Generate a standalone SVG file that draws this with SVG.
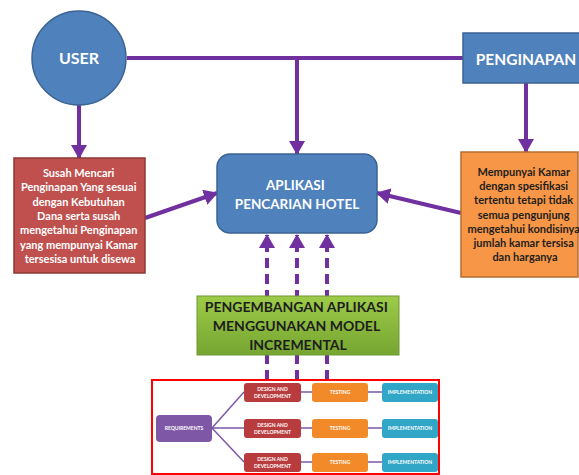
<svg xmlns="http://www.w3.org/2000/svg" width="579" height="475" viewBox="0 0 579 475">
<defs>
<marker id="ah" markerUnits="userSpaceOnUse" markerWidth="16" markerHeight="16" viewBox="0 0 16 16" refX="13" refY="8" orient="auto">
<path d="M0,0 L14,8 L0,16 Z" fill="#7030A0"/>
</marker>
<linearGradient id="gg" x1="0" y1="0" x2="0" y2="1">
<stop offset="0" stop-color="#9DCB48"/>
<stop offset="1" stop-color="#76A532"/>
</linearGradient>
<style>
.t{font-family:Lato,"Open Sans","Liberation Sans",sans-serif;font-weight:bold;text-anchor:middle}
.w{fill:#FFFFFF}
.k{fill:#1E1E1E}
.c{stroke:#7030A0;stroke-width:4;fill:none}
.d{stroke:#7030A0;stroke-width:4;fill:none;stroke-dasharray:10 6}
.s{font-size:5px}
.fl{stroke:#7E58A6;stroke-width:1.5;fill:none}
</style>
</defs>
<g id="connectors">
<line class="c" x1="127" y1="58" x2="463" y2="58"/>
<line class="c" x1="79" y1="105" x2="79" y2="158" marker-end="url(#ah)"/>
<line class="c" x1="297" y1="58" x2="297" y2="154" marker-end="url(#ah)"/>
<line class="c" x1="526" y1="83" x2="526" y2="152" marker-end="url(#ah)"/>
<line class="c" x1="145" y1="218" x2="217" y2="193" marker-end="url(#ah)"/>
<line class="c" x1="461" y1="213" x2="377" y2="193" marker-end="url(#ah)"/>
<line class="d" x1="267" y1="380" x2="267" y2="235" marker-end="url(#ah)"/>
<line class="d" x1="297" y1="380" x2="297" y2="235" marker-end="url(#ah)"/>
<line class="d" x1="327" y1="380" x2="327" y2="235" marker-end="url(#ah)"/>
</g>
<g id="user">
<circle cx="79" cy="58" r="47" fill="#4F81BD" stroke="#3A6393" stroke-width="1.5"/>
<text class="t w" x="79" y="64" font-size="16">USER</text>
</g>
<g id="penginapan">
<rect x="463" y="33" width="120" height="50" fill="#4F81BD" stroke="#3A6393" stroke-width="1.5"/>
<text class="t w" x="526" y="65" font-size="15.5">PENGINAPAN</text>
</g>
<g id="masalah-user">
<rect x="14" y="158" width="131" height="115" fill="#C0504D" stroke="#8C3836" stroke-width="1.5"/>
<text class="t w" font-size="11">
<tspan x="80" y="177">Susah Mencari</tspan>
<tspan x="80" y="191.3">Penginapan Yang sesuai</tspan>
<tspan x="80" y="205.6">dengan Kebutuhan</tspan>
<tspan x="80" y="219.9">Dana serta susah</tspan>
<tspan x="80" y="234.2">mengetahui Penginapan</tspan>
<tspan x="80" y="248.5">yang mempunyai Kamar</tspan>
<tspan x="80" y="262.8">tersesisa untuk disewa</tspan>
</text>
</g>
<g id="masalah-penginapan">
<rect x="461" y="152" width="117" height="125" fill="#F79646" stroke="#B66D31" stroke-width="1.5"/>
<text class="t k" font-size="11">
<tspan x="525" y="176">Mempunyai Kamar</tspan>
<tspan x="525" y="190.2">dengan spesifikasi</tspan>
<tspan x="525" y="204.4">tertentu tetapi tidak</tspan>
<tspan x="525" y="218.6">semua pengunjung</tspan>
<tspan x="525" y="232.8">mengetahui kondisinya</tspan>
<tspan x="525" y="247">jumlah kamar tersisa</tspan>
<tspan x="525" y="261.2">dan harganya</tspan>
</text>
</g>
<g id="aplikasi">
<rect x="217" y="154" width="160" height="79" rx="13" fill="#4F81BD" stroke="#3A6393" stroke-width="1.5"/>
<text class="t w" font-size="13.5">
<tspan x="297" y="190">APLIKASI</tspan>
<tspan x="297" y="209">PENCARIAN HOTEL</tspan>
</text>
</g>
<g id="pengembangan">
<rect x="197" y="296" width="202" height="59" fill="url(#gg)" stroke="#6E9A32" stroke-width="1"/>
<text class="t k" font-size="14">
<tspan x="298" y="312">PENGEMBANGAN APLIKASI</tspan>
<tspan x="298" y="331">MENGGUNAKAN MODEL</tspan>
<tspan x="298" y="350">INCREMENTAL</tspan>
</text>
</g>
<g id="model-incremental">
<rect x="152" y="380" width="287" height="94" fill="#FFFFFF" stroke="#FF0000" stroke-width="2"/>
<g id="flow-lines">
<path class="fl" d="M212,428 L244,392 M212,428 L244,428 M212,428 L244,462 M301,392 L312,392 M368,392 L382,392 M301,428 L312,428 M368,428 L382,428 M301,462 L312,462 M368,462 L382,462"/>
</g>
<g id="requirements">
<rect x="156" y="415" width="56" height="27" rx="4" fill="#7E58A6"/>
<text class="t w s" x="184" y="430">REQUIREMENTS</text>
</g>
<g id="design1">
<rect x="244" y="383" width="57" height="19" rx="3" fill="#B83B3E"/>
<text class="t w s"><tspan x="272.5" y="391">DESIGN AND</tspan><tspan x="272.5" y="398">DEVELOPMENT</tspan></text>
</g>
<g id="testing1">
<rect x="312" y="383" width="56" height="19" rx="3" fill="#F28A2A"/>
<text class="t w s" x="340" y="394">TESTING</text>
</g>
<g id="impl1">
<rect x="382" y="383" width="56" height="19" rx="3" fill="#31A6C6"/>
<text class="t w s" x="410" y="394">IMPLEMENTATION</text>
</g>
<g id="design2">
<rect x="244" y="419" width="57" height="19" rx="3" fill="#B83B3E"/>
<text class="t w s"><tspan x="272.5" y="427">DESIGN AND</tspan><tspan x="272.5" y="434">DEVELOPMENT</tspan></text>
</g>
<g id="testing2">
<rect x="312" y="419" width="56" height="19" rx="3" fill="#F28A2A"/>
<text class="t w s" x="340" y="430">TESTING</text>
</g>
<g id="impl2">
<rect x="382" y="419" width="56" height="19" rx="3" fill="#31A6C6"/>
<text class="t w s" x="410" y="430">IMPLEMENTATION</text>
</g>
<g id="design3">
<rect x="244" y="453" width="57" height="19" rx="3" fill="#B83B3E"/>
<text class="t w s"><tspan x="272.5" y="461">DESIGN AND</tspan><tspan x="272.5" y="468">DEVELOPMENT</tspan></text>
</g>
<g id="testing3">
<rect x="312" y="453" width="56" height="19" rx="3" fill="#F28A2A"/>
<text class="t w s" x="340" y="464">TESTING</text>
</g>
<g id="impl3">
<rect x="382" y="453" width="56" height="19" rx="3" fill="#31A6C6"/>
<text class="t w s" x="410" y="464">IMPLEMENTATION</text>
</g>
</g>
</svg>
